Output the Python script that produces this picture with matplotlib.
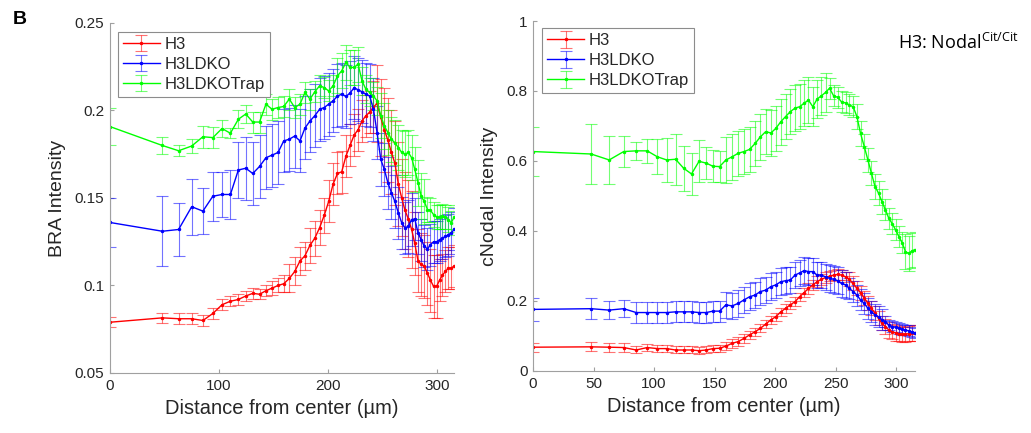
import matplotlib
matplotlib.use("Agg")
import matplotlib.pyplot as plt
from matplotlib.ticker import FuncFormatter

plt.rcParams["font.family"] = ["Liberation Sans", "DejaVu Sans"]

# radial positions of the measurement rings (um), shared by both panels
dist = [0, 48.0, 62.9, 74.9, 85.2, 94.3, 102.7, 110.4, 117.7, 124.5, 130.9,
        137.1, 143.0, 148.6, 154.1, 159.3, 164.4, 169.4, 174.2, 178.8, 183.4,
        187.8, 192.2, 196.4, 200.5, 204.6, 208.6, 212.5, 216.4, 220.1, 223.9,
        227.5, 231.1, 234.6, 238.1, 241.6, 244.9, 248.3, 251.6, 254.8, 258.1,
        261.2, 264.4, 267.5, 270.5, 273.6, 276.6, 279.5, 282.5, 285.4, 288.2,
        291.1, 293.9, 296.7, 299.5, 302.2, 304.9, 307.6, 310.3, 312.9, 315.5]

labels = ["H3", "H3LDKO", "H3LDKOTrap"]

# BRA intensity
bra_h3 = [0.079, 0.0815, 0.081, 0.081, 0.080, 0.084, 0.089, 0.091, 0.092, 0.094,
          0.0955, 0.095, 0.097, 0.0985, 0.100, 0.101, 0.104, 0.108, 0.114, 0.117,
          0.123, 0.127, 0.133, 0.140, 0.148, 0.158, 0.164, 0.165, 0.174, 0.180,
          0.186, 0.189, 0.194, 0.197, 0.199, 0.202, 0.204, 0.196, 0.189, 0.183,
          0.176, 0.170, 0.158, 0.150, 0.143, 0.138, 0.132, 0.124, 0.114, 0.112,
          0.111, 0.107, 0.103, 0.0995, 0.0995, 0.103, 0.106, 0.108, 0.110, 0.110,
          0.111]
bra_h3_err = [0.003, 0.003, 0.003, 0.003, 0.003, 0.003, 0.003, 0.003, 0.003, 0.003,
              0.003, 0.003, 0.003, 0.004, 0.004, 0.005, 0.008, 0.008, 0.008, 0.008,
              0.010, 0.010, 0.010, 0.010, 0.012, 0.012, 0.012, 0.012, 0.012, 0.012,
              0.012, 0.012, 0.012, 0.012, 0.012, 0.015, 0.022, 0.022, 0.024, 0.024,
              0.024, 0.024, 0.024, 0.022, 0.022, 0.022, 0.022, 0.018, 0.018, 0.018,
              0.018, 0.018, 0.018, 0.018, 0.018, 0.012, 0.012, 0.012, 0.012, 0.012,
              0.012]
bra_ldko = [0.136, 0.131, 0.132, 0.145, 0.1425, 0.151, 0.152, 0.152, 0.166, 0.167,
            0.164, 0.168, 0.173, 0.1745, 0.176, 0.1826, 0.1836, 0.1854, 0.1826, 0.190,
            0.194, 0.197, 0.2007, 0.2017, 0.2036, 0.2055, 0.2083, 0.2093, 0.208, 0.210,
            0.213, 0.2118, 0.2107, 0.2093, 0.2083, 0.2007, 0.1874, 0.172, 0.1663, 0.1587,
            0.153, 0.148, 0.1415, 0.1358, 0.1329, 0.1338, 0.1377, 0.138, 0.130, 0.1262,
            0.1224, 0.1209, 0.1233, 0.125, 0.125, 0.1262, 0.127, 0.128, 0.129, 0.130,
            0.132]
bra_ldko_err = [0.014, 0.020, 0.015, 0.016, 0.013, 0.014, 0.013, 0.014, 0.016, 0.018,
                0.018, 0.018, 0.018, 0.018, 0.018, 0.018, 0.018, 0.018, 0.018, 0.018,
                0.018, 0.018, 0.018, 0.018, 0.018, 0.018, 0.018, 0.018, 0.018, 0.018,
                0.018, 0.018, 0.018, 0.018, 0.018, 0.018, 0.015, 0.015, 0.015, 0.015,
                0.015, 0.015, 0.015, 0.015, 0.015, 0.015, 0.015, 0.012, 0.012, 0.012,
                0.012, 0.012, 0.012, 0.012, 0.012, 0.012, 0.012, 0.012, 0.012, 0.012,
                0.012]
bra_trap = [0.1908, 0.180, 0.177, 0.1797, 0.185, 0.1845, 0.1897, 0.187, 0.195, 0.198,
            0.1934, 0.1934, 0.2036, 0.2007, 0.2017, 0.2023, 0.2065, 0.2017, 0.2036, 0.2103,
            0.2065, 0.2107, 0.2141, 0.2131, 0.2112, 0.2141, 0.2198, 0.2227, 0.2275, 0.2246,
            0.2246, 0.2265, 0.2169, 0.2122, 0.2103, 0.2083, 0.2055, 0.197, 0.1912, 0.1874,
            0.1835, 0.1816, 0.1788, 0.176, 0.175, 0.176, 0.173, 0.1663, 0.1587, 0.151,
            0.148, 0.1434, 0.143, 0.1405, 0.1392, 0.139, 0.1395, 0.139, 0.1377, 0.1358,
            0.139]
bra_trap_err = [0.0105, 0.005, 0.003, 0.004, 0.0064, 0.006, 0.005, 0.003, 0.005, 0.005,
                0.006, 0.006, 0.006, 0.006, 0.006, 0.006, 0.006, 0.006, 0.006, 0.006,
                0.006, 0.006, 0.006, 0.006, 0.006, 0.006, 0.010, 0.010, 0.010, 0.010,
                0.010, 0.010, 0.008, 0.008, 0.008, 0.008, 0.008, 0.013, 0.013, 0.013,
                0.013, 0.013, 0.013, 0.013, 0.013, 0.013, 0.013, 0.013, 0.013, 0.013,
                0.013, 0.007, 0.007, 0.007, 0.007, 0.007, 0.007, 0.007, 0.007, 0.007,
                0.007]

# cNodal intensity
nodal_h3 = [0.068, 0.069, 0.068, 0.067, 0.060, 0.067, 0.064, 0.064, 0.060, 0.060,
            0.060, 0.058, 0.060, 0.064, 0.065, 0.071, 0.079, 0.084, 0.093, 0.103,
            0.112, 0.122, 0.134, 0.146, 0.155, 0.169, 0.179, 0.189, 0.198, 0.212,
            0.224, 0.236, 0.246, 0.255, 0.262, 0.267, 0.271, 0.274, 0.276, 0.274,
            0.269, 0.262, 0.250, 0.236, 0.224, 0.208, 0.193, 0.179, 0.165, 0.150,
            0.136, 0.127, 0.117, 0.112, 0.109, 0.107, 0.105, 0.105, 0.107, 0.109,
            0.109]
nodal_h3_err = [0.013, 0.013, 0.013, 0.013, 0.010, 0.010, 0.010, 0.010, 0.010, 0.010,
                0.010, 0.010, 0.010, 0.010, 0.010, 0.012, 0.012, 0.012, 0.012, 0.012,
                0.012, 0.012, 0.012, 0.012, 0.012, 0.012, 0.012, 0.012, 0.012, 0.012,
                0.012, 0.015, 0.015, 0.015, 0.015, 0.015, 0.015, 0.015, 0.015, 0.015,
                0.015, 0.020, 0.020, 0.020, 0.020, 0.020, 0.020, 0.020, 0.020, 0.020,
                0.020, 0.022, 0.022, 0.022, 0.022, 0.022, 0.022, 0.022, 0.022, 0.022,
                0.022]
nodal_ldko = [0.176, 0.178, 0.174, 0.178, 0.167, 0.167, 0.167, 0.167, 0.169, 0.169,
              0.169, 0.167, 0.167, 0.171, 0.171, 0.189, 0.186, 0.193, 0.203, 0.212,
              0.217, 0.227, 0.231, 0.241, 0.246, 0.255, 0.258, 0.260, 0.274, 0.280,
              0.287, 0.284, 0.284, 0.274, 0.274, 0.269, 0.265, 0.262, 0.258, 0.250,
              0.246, 0.236, 0.227, 0.217, 0.203, 0.193, 0.179, 0.169, 0.160, 0.155,
              0.146, 0.141, 0.131, 0.127, 0.125, 0.122, 0.119, 0.117, 0.115, 0.112,
              0.109]
nodal_ldko_err = [0.033, 0.030, 0.025, 0.025, 0.030, 0.030, 0.030, 0.030, 0.030, 0.030,
                  0.030, 0.030, 0.030, 0.030, 0.030, 0.038, 0.038, 0.038, 0.038, 0.038,
                  0.038, 0.038, 0.038, 0.038, 0.038, 0.038, 0.038, 0.038, 0.038, 0.038,
                  0.038, 0.038, 0.038, 0.038, 0.038, 0.038, 0.038, 0.038, 0.038, 0.038,
                  0.038, 0.030, 0.030, 0.030, 0.030, 0.030, 0.030, 0.030, 0.030, 0.030,
                  0.030, 0.015, 0.015, 0.015, 0.015, 0.015, 0.015, 0.015, 0.015, 0.015,
                  0.015]
nodal_trap = [0.627, 0.620, 0.603, 0.627, 0.629, 0.629, 0.612, 0.603, 0.605, 0.579,
              0.563, 0.599, 0.594, 0.585, 0.584, 0.603, 0.612, 0.622, 0.627, 0.633,
              0.650, 0.669, 0.684, 0.680, 0.693, 0.712, 0.727, 0.741, 0.751, 0.755,
              0.765, 0.774, 0.755, 0.777, 0.786, 0.796, 0.808, 0.786, 0.782, 0.769,
              0.766, 0.760, 0.755, 0.727, 0.679, 0.641, 0.603, 0.565, 0.527, 0.508,
              0.484, 0.460, 0.436, 0.421, 0.403, 0.384, 0.366, 0.341, 0.336, 0.343,
              0.347]
nodal_trap_err = [0.070, 0.086, 0.069, 0.045, 0.025, 0.035, 0.050, 0.063, 0.073, 0.064,
                  0.060, 0.060, 0.045, 0.045, 0.045, 0.065, 0.065, 0.065, 0.065, 0.065,
                  0.065, 0.065, 0.065, 0.065, 0.065, 0.065, 0.065, 0.065, 0.065, 0.065,
                  0.065, 0.065, 0.055, 0.055, 0.055, 0.055, 0.030, 0.030, 0.030, 0.030,
                  0.030, 0.030, 0.030, 0.035, 0.035, 0.035, 0.035, 0.035, 0.035, 0.035,
                  0.035, 0.030, 0.030, 0.030, 0.030, 0.030, 0.030, 0.050, 0.050, 0.050,
                  0.050]

colors = ["#ff0000", "#0000ff", "#00ff00"]
axis_grey = "#a0a0a0"
text_dark = "#262626"


@FuncFormatter
def short_fmt(v, pos):
    return "%g" % round(v, 4)


def draw_panel(ax, series, errs, ylim, yticks, xticks, ylabel, legend_pos):
    for vals, err, col, lab in zip(series, errs, colors, labels):
        eb = ax.errorbar(dist, vals, yerr=err, color=col, lw=1.0, marker=".",
                         markersize=3, elinewidth=0.8, capsize=4, capthick=0.8,
                         label=lab)
        for c in eb[1]:
            c.set_alpha(0.55)
        for b in eb[2]:
            b.set_alpha(0.55)
    ax.set_xlim(0, dist[-1])
    ax.set_ylim(*ylim)
    ax.set_yticks(yticks)
    ax.set_xticks(xticks)
    ax.yaxis.set_major_formatter(short_fmt)
    for s in ["top", "right"]:
        ax.spines[s].set_visible(False)
    for s in ["left", "bottom"]:
        ax.spines[s].set_color(axis_grey)
        ax.spines[s].set_linewidth(0.8)
    ax.tick_params(direction="in", length=3, width=0.8, color=axis_grey,
                   labelsize=11, labelcolor=text_dark, pad=4)
    ax.set_xlabel("Distance from center (µm)", fontsize=14.5, color=text_dark,
                  labelpad=5)
    ax.set_ylabel(ylabel, fontsize=14, color=text_dark, labelpad=6)
    leg = ax.legend(loc="upper left", bbox_to_anchor=legend_pos,
                    borderaxespad=0, fontsize=12, fancybox=False,
                    handlelength=2.2, handletextpad=0.3, borderpad=0.3,
                    labelspacing=0.3, framealpha=1)
    leg.get_frame().set_edgecolor("#8c8c8c")
    leg.get_frame().set_linewidth(0.8)
    for t in leg.get_texts():
        t.set_color(text_dark)


fig = plt.figure(figsize=(10.31, 4.33), dpi=100)
ax1 = fig.add_axes([0.1067, 0.1386, 0.3337, 0.8083])
ax2 = fig.add_axes([0.5170, 0.1432, 0.3705, 0.8083])

draw_panel(ax1, [bra_h3, bra_ldko, bra_trap],
           [bra_h3_err, bra_ldko_err, bra_trap_err],
           (0.05, 0.25), [0.05, 0.1, 0.15, 0.2, 0.25], [0, 100, 200, 300],
           "BRA Intensity", (0.023, 0.975))
draw_panel(ax2, [nodal_h3, nodal_ldko, nodal_trap],
           [nodal_h3_err, nodal_ldko_err, nodal_trap_err],
           (0, 1), [0, 0.2, 0.4, 0.6, 0.8, 1], [0, 50, 100, 150, 200, 250, 300],
           "cNodal Intensity", (0.024, 0.98))

fig.text(0.012, 0.955, "B", fontsize=14, fontweight="bold", color="black",
         ha="left", va="center")
fig.text(0.871, 0.9, r"H3: Nodal$^{\mathregular{Cit/Cit}}$", fontsize=13,
         color="black", ha="left", va="center", family=["Open Sans", "DejaVu Sans"])

fig.savefig("out.png", dpi=100)
